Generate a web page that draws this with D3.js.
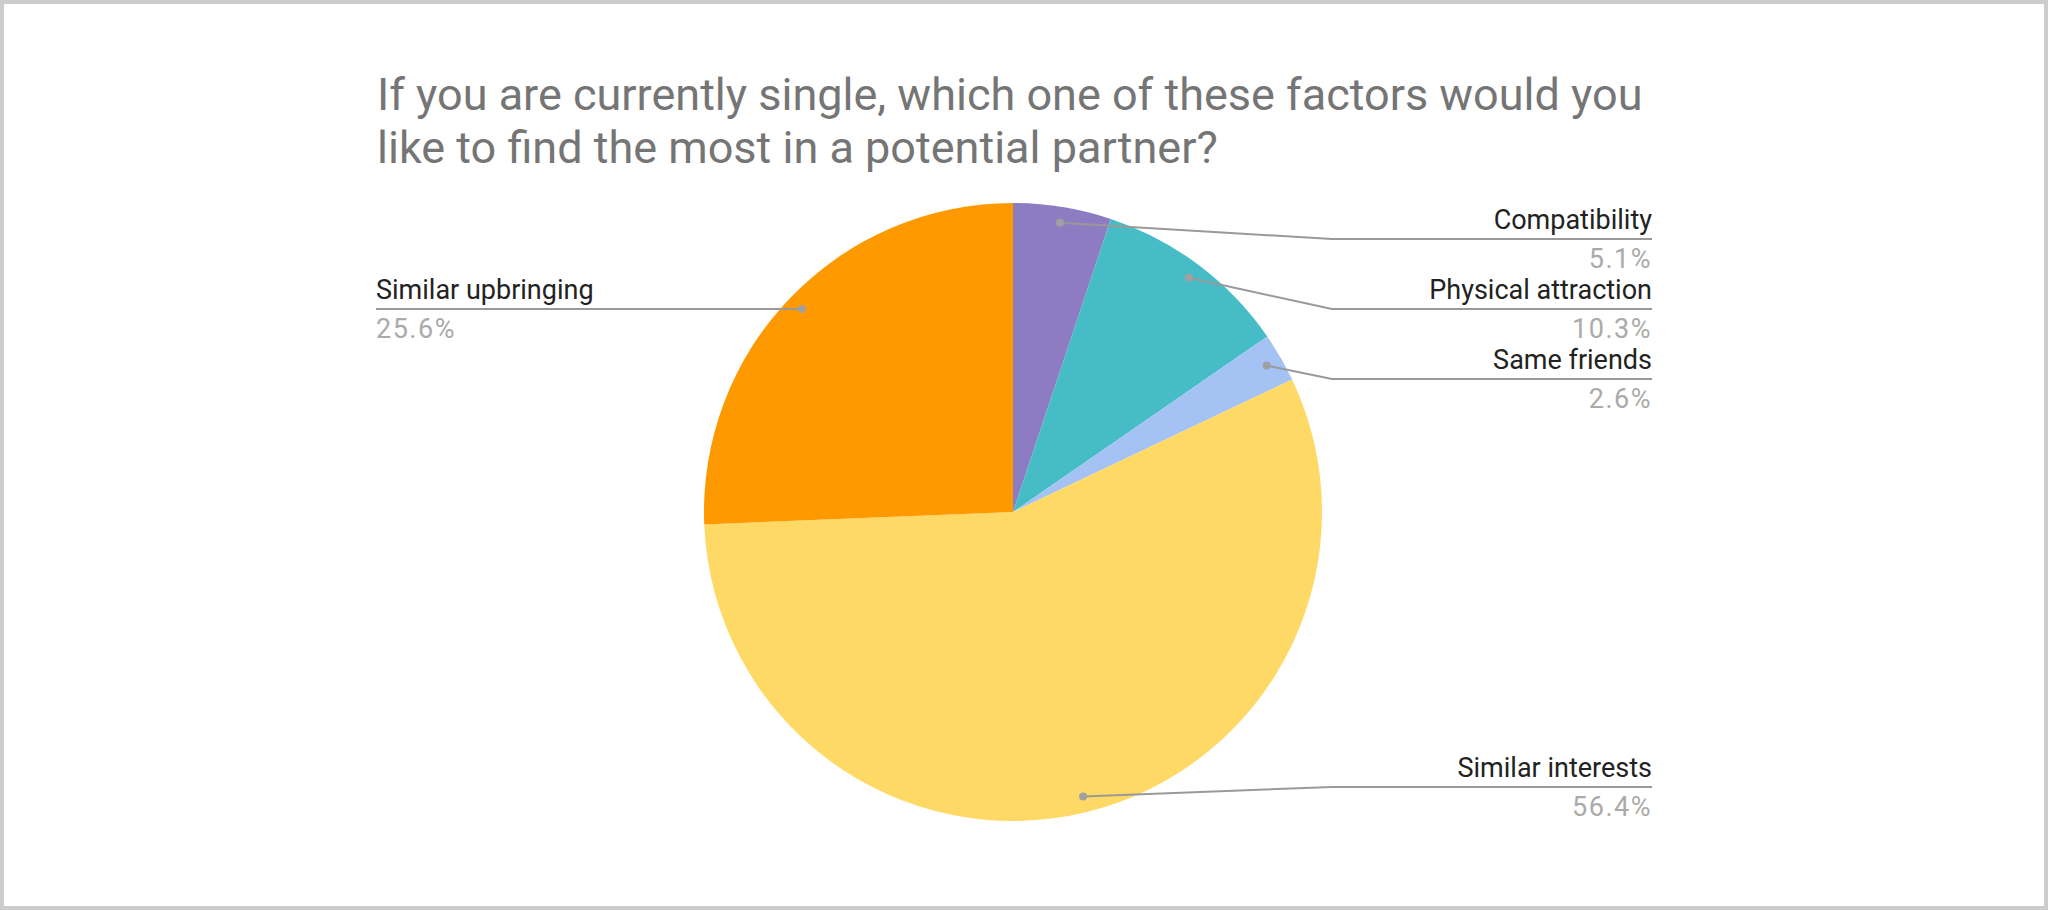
<!DOCTYPE html>
<html>
<head>
<meta charset="utf-8">
<script src="https://cdn.jsdelivr.net/npm/d3@7"></script>
<style>
  html, body { margin: 0; padding: 0; background: #ffffff; }
  svg { display: block; }
</style>
</head>
<body>
<svg id="chart" width="2048" height="910"></svg>
<script>
// ---- data ----
const titleLines = [
  "If you are currently single, which one of these factors would you",
  "like to find the most in a potential partner?"
];
const categories = ["Compatibility", "Physical attraction", "Same friends", "Similar interests", "Similar upbringing"];
const counts = [2, 4, 1, 22, 10];
const colors = ["#8e7cc3", "#46bdc6", "#a4c2f4", "#ffd966", "#ff9900"];

// ---- layout ----
const W = 2048, H = 910;
const cx = 1013, cy = 512, r = 309;
const labelRightX = cx + 639, labelLeftX = cx - 637;
const bendOffset = 10;
const rowGap = 70;
const FONT = "Roboto, 'Liberation Sans', Arial, sans-serif";

const svg = d3.select("#chart");
svg.append("rect").attr("x", 2).attr("y", 2).attr("width", W - 4).attr("height", H - 4)
  .attr("fill", "#ffffff").attr("stroke", "#cccccc").attr("stroke-width", 4);

// title
svg.append("g").selectAll("text").data(titleLines).join("text")
  .attr("x", 377)
  .attr("y", (d, i) => 110 + i * 53)
  .attr("font-family", FONT)
  .attr("font-size", 45)
  .attr("fill", "#757575")
  .text(d => d);

const total = d3.sum(counts);
const fmt = d3.format(".1%");
const data = categories.map((c, i) => ({ name: c, value: counts[i], color: colors[i] }));

const pie = d3.pie().sort(null).value(d => d.value);
const arcs = pie(data);
const arc = d3.arc().innerRadius(0).outerRadius(r);
const dotArc = d3.arc().innerRadius(r * 0.948).outerRadius(r * 0.948);

const g = svg.append("g").attr("transform", `translate(${cx},${cy})`);
g.selectAll("path.slice").data(arcs).join("path")
  .attr("class", "slice")
  .attr("d", arc)
  .attr("fill", d => d.data.color);

// label placement
const items = arcs.map(a => {
  const [dx, dy] = dotArc.centroid(a);
  const mid = (a.startAngle + a.endAngle) / 2;
  return { a, dx, dy, right: mid < Math.PI, pct: fmt(a.data.value / total) };
});
const yMin = -r + 36, yMax = r - 34;
[true, false].forEach(side => {
  const list = items.filter(d => d.right === side).sort((p, q) => p.dy - q.dy);
  let prev = -Infinity;
  list.forEach(d => { d.ly = Math.max(d.dy, prev + rowGap, yMin); prev = d.ly; });
  let next = Infinity;
  for (let i = list.length - 1; i >= 0; i--) {
    const d = list[i];
    d.ly = Math.min(d.ly, next - rowGap, yMax); next = d.ly;
  }
});

const lbl = g.append("g");
items.forEach(d => {
  const endX = (d.right ? labelRightX : labelLeftX) - cx;
  const bendX = d.right ? r + bendOffset : -(r + bendOffset);
  const pts = [[d.dx, d.dy], [bendX, d.ly], [endX, d.ly]];
  lbl.append("path")
    .attr("d", d3.line()(pts))
    .attr("fill", "none")
    .attr("stroke", "#999999")
    .attr("stroke-width", 2);
  lbl.append("circle").attr("cx", d.dx).attr("cy", d.dy).attr("r", 4)
    .attr("fill", "#a0a0a0");
  const anchor = d.right ? "end" : "start";
  lbl.append("text")
    .attr("x", endX).attr("y", d.ly - 10)
    .attr("text-anchor", anchor)
    .attr("font-family", FONT)
    .attr("font-size", 27)
    .attr("fill", "#222222")
    .text(d.a.data.name);
  lbl.append("text")
    .attr("x", endX).attr("y", d.ly + 29)
    .attr("text-anchor", anchor)
    .attr("font-family", FONT)
    .attr("font-size", 27)
    .attr("letter-spacing", 1.5)
    .attr("fill", "#aaaaaa")
    .text(d.pct);
});
</script>
</body>
</html>
